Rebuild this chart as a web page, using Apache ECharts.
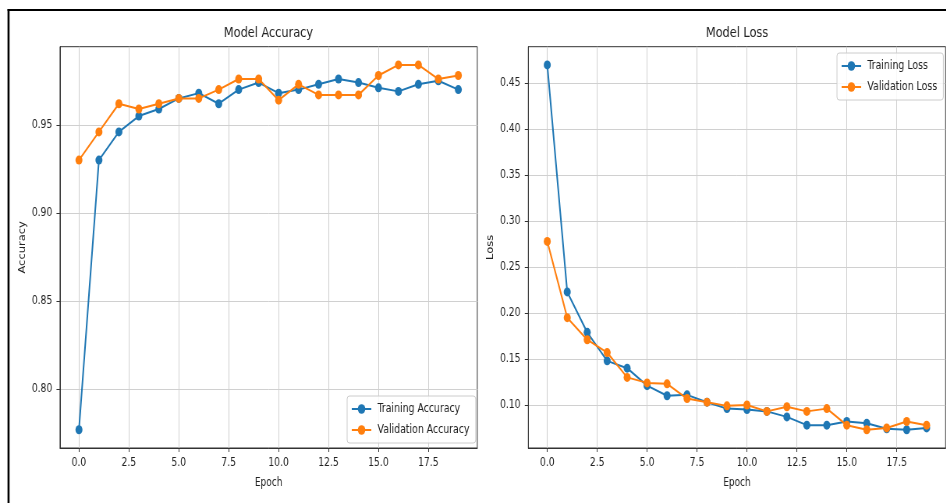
<!DOCTYPE html>
<html>
<head>
<meta charset="utf-8">
<script src="https://cdn.jsdelivr.net/npm/echarts@6/dist/echarts.min.js"></script>
<style>
html,body{margin:0;padding:0;background:#fff;overflow:hidden;width:946px;height:503px;}
#wrap{width:946px;height:503px;overflow:hidden;position:relative;}
#chart{width:1214px;height:503px;transform:scaleX(0.78);transform-origin:0 0;position:absolute;left:0;top:0;}
</style>
</head>
<body>
<div id="wrap"><div id="chart"></div></div>
<script>
// ---- data ----
const epochs = [0,1,2,3,4,5,6,7,8,9,10,11,12,13,14,15,16,17,18,19];
const trainAcc = [0.777,0.930,0.946,0.955,0.959,0.965,0.968,0.962,0.970,0.974,0.968,0.970,0.973,0.976,0.974,0.971,0.969,0.973,0.975,0.970];
const valAcc   = [0.930,0.946,0.962,0.959,0.962,0.965,0.965,0.970,0.976,0.976,0.964,0.973,0.967,0.967,0.967,0.978,0.984,0.984,0.976,0.978];
const trainLoss = [0.470,0.223,0.179,0.148,0.140,0.121,0.110,0.111,0.103,0.096,0.095,0.093,0.087,0.078,0.078,0.082,0.080,0.074,0.073,0.075];
const valLoss   = [0.278,0.195,0.171,0.157,0.130,0.124,0.123,0.107,0.103,0.099,0.100,0.093,0.098,0.093,0.096,0.078,0.073,0.075,0.082,0.078];
const xTicks = [0,2.5,5,7.5,10,12.5,15,17.5];
const accTicks = [0.80,0.85,0.90,0.95];
const lossTicks = [0.10,0.15,0.20,0.25,0.30,0.35,0.40,0.45];
const titles = ['Model Accuracy','Model Loss'];
const legendNames = [['Training Accuracy','Validation Accuracy'],['Training Loss','Validation Loss']];
const yNames = ['Accuracy','Loss'];
const xName = 'Epoch';

// ---- helpers ----
function padExtent(arrs){
  const all = [].concat(...arrs);
  const mn = Math.min(...all), mx = Math.max(...all);
  const p = (mx - mn) * 0.05;
  return [mn - p, mx + p];
}
const xExt = padExtent([epochs]);
const accExt = padExtent([trainAcc, valAcc]);
const lossExt = padExtent([trainLoss, valLoss]);

const BLUE = '#1f77b4', ORANGE = '#ff7f0e';
const FONT = 'DejaVu Sans';
const TXT = '#222222';
const GRIDC = '#d0d0d0';

const grids = [
  {left: 76.9, top: 46.7, width: 535, height: 401.3},
  {left: 677.3, top: 46.7, width: 535, height: 401.3}
];

function xAxis(i){
  return {
    type:'value', gridIndex:i, min:xExt[0], max:xExt[1],
    name: xName, nameLocation:'middle', nameGap:29,
    nameTextStyle:{fontFamily:FONT, fontSize:11.5, color:TXT},
    axisLine:{show:true, onZero:false, lineStyle:{color:'#333', width:1}},
    axisTick:{show:true, length:4, inside:false, customValues:xTicks, lineStyle:{color:'#333'}},
    axisLabel:{customValues:xTicks, margin:9, fontFamily:FONT, fontSize:11.8, color:TXT,
      formatter:v=>Number(v).toFixed(1)},
    splitLine:{show:true, lineStyle:{color:GRIDC, width:1}}
  };
}
function yAxis(i, ext, ticks){
  return {
    type:'value', gridIndex:i, min:ext[0], max:ext[1],
    name: yNames[i], nameLocation:'middle', nameGap:42, nameRotate:90,
    nameTextStyle:{fontFamily:FONT, fontSize:11.5, color:TXT},
    axisLine:{show:true, onZero:false, lineStyle:{color:'#333', width:1}},
    axisTick:{show:true, length:4.5, inside:false, customValues:ticks, lineStyle:{color:'#333'}},
    axisLabel:{customValues:ticks, margin:10, fontFamily:FONT, fontSize:11.8, color:TXT,
      formatter:v=>Number(v).toFixed(2)},
    splitLine:{show:true, lineStyle:{color:GRIDC, width:1}}
  };
}
function series(name, data, color, xi, z){
  return {
    name, type:'line', xAxisIndex:xi, yAxisIndex:xi, z,
    data: epochs.map((e,k)=>[e, data[k]]),
    symbol:'circle', symbolSize:9, showSymbol:true,
    lineStyle:{color, width:2}, itemStyle:{color},
    animation:false, silent:true
  };
}
function legend(i, pos){
  return Object.assign({
    data: legendNames[i], orient:'vertical',
    itemWidth:25, itemHeight:12, itemGap:9,
    padding:[7,8,7,5],
    backgroundColor:'rgba(255,255,255,0.85)', borderColor:'#cccccc', borderWidth:1, borderRadius:3,
    textStyle:{fontFamily:FONT, fontSize:12, color:TXT, padding:[0,0,0,3]},
    selectedMode:false
  }, pos);
}

const chart = echarts.init(document.getElementById('chart'), null, {renderer:'canvas'});
chart.setOption({
  backgroundColor:'#ffffff',
  animation:false,
  title:[
    {text:titles[0], left:344.2, top:26, textAlign:'center', padding:0,
      textStyle:{fontFamily:FONT, fontSize:14.5, fontWeight:'normal', color:TXT}},
    {text:titles[1], left:944.9, top:26, textAlign:'center', padding:0,
      textStyle:{fontFamily:FONT, fontSize:14.5, fontWeight:'normal', color:TXT}}
  ],
  grid: grids.map(g=>Object.assign({show:true, borderColor:'#333', borderWidth:1, backgroundColor:'transparent'}, g)),
  xAxis:[xAxis(0), xAxis(1)],
  yAxis:[yAxis(0, accExt, accTicks), yAxis(1, lossExt, lossTicks)],
  legend:[legend(0,{left:445, top:396}), legend(1,{left:1073, top:53})],
  series:[
    series(legendNames[0][0], trainAcc, BLUE, 0, 2),
    series(legendNames[0][1], valAcc, ORANGE, 0, 3),
    series(legendNames[1][0], trainLoss, BLUE, 1, 2),
    series(legendNames[1][1], valLoss, ORANGE, 1, 3)
  ],
  graphic:[
    {type:'line', shape:{x1:10.9, y1:9, x2:10.9, y2:520}, style:{stroke:'#000', lineWidth:2.6}, silent:true},
    {type:'line', shape:{x1:9.6, y1:10, x2:1300, y2:10}, style:{stroke:'#000', lineWidth:2}, silent:true}
  ]
});
</script>
</body>
</html>
